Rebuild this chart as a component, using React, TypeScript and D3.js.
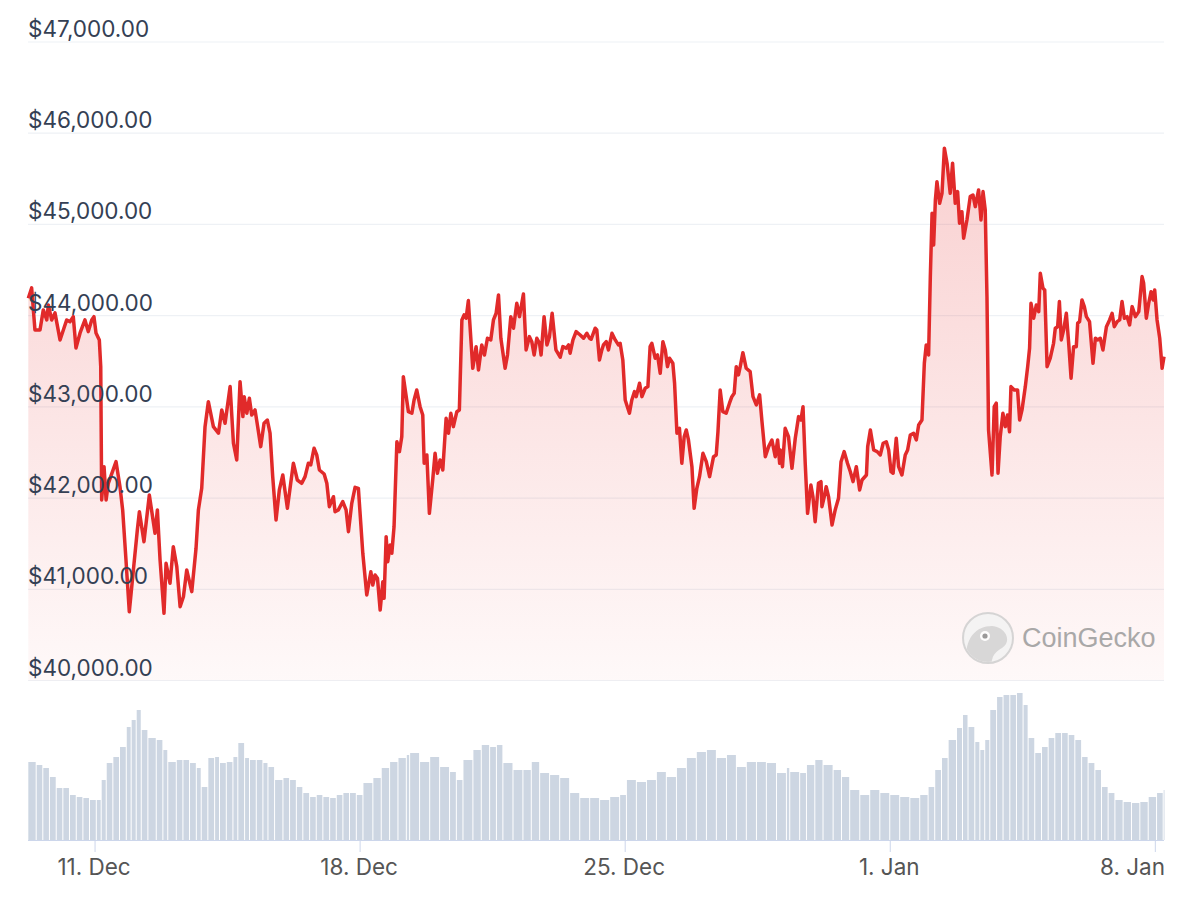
import React from "react";
import * as d3 from "d3";

// Hours since START, BTC price in USD
const START = Date.UTC(2023, 11, 9, 5, 30);
const SPAN_HOURS = 720;

const priceSeries: [number, number][] = [
  [0.2,44191],[2.3,44304],[4.4,43843],[7.6,43843],[9.7,44063],[11.9,43953],[12.9,44117],[15.0,43953],[17.1,44030],[20.3,43734],
  [22.4,43843],[24.5,43953],[26.6,43934],[28.7,43989],[30.4,43646],[33.0,43810],[36.1,43953],[38.2,43825],[40.4,43953],[41.8,43989],
  [43.1,43810],[45.2,43734],[46.1,43441],[46.7,41979],[48.2,42344],[49.5,41979],[50.9,42162],[55.8,42399],[58.3,42125],[60.0,41870],
  [62.1,41321],[64.2,40754],[66.8,41212],[69.3,41650],[70.6,41851],[73.5,41522],[76.9,42034],[80.5,41614],[82.0,41870],[83.7,41321],
  [86.2,40737],[87.5,41285],[90.0,41066],[92.1,41467],[94.3,41248],[96.4,40809],[98.5,40919],[100.6,41212],[103.8,40974],[106.5,41450],
  [108.0,41870],[110.1,42107],[112.2,42783],[114.3,43057],[117.5,42783],[120.7,42711],[122.8,42966],[124.9,42820],[128.1,43222],[130.2,42601],
  [132.3,42418],[134.4,43276],[136.2,42893],[137.0,43112],[138.7,42930],[140.3,43094],[141.8,42911],[143.9,42966],[145.4,42802],[147.5,42564],
  [149.6,42820],[151.7,42856],[153.4,42711],[155.1,42235],[157.2,41760],[159.3,42089],[161.5,42253],[164.4,41888],[168.2,42382],[170.7,42198],
  [173.5,42162],[175.6,42235],[177.7,42382],[179.2,42363],[181.3,42546],[183.0,42473],[184.7,42308],[187.7,42264],[189.4,42162],[191.0,41906],
  [193.6,42015],[194.6,41851],[196.7,41870],[199.5,41961],[201.6,41870],[203.1,41632],[205.2,41943],[207.3,42118],[209.4,42107],[212.2,41395],
  [214.7,40938],[217.3,41193],[218.5,41047],[220.0,41157],[221.5,41121],[223.2,40773],[224.9,41083],[225.7,40901],[227.0,41577],[228.0,41303],
  [229.5,41486],[230.6,41395],[232.0,41686],[233.8,42618],[235.4,42509],[236.9,42673],[237.9,43331],[241.1,42947],[243.3,42930],[244.7,43076],
  [246.4,43185],[248.5,43002],[250.2,42911],[251.1,42382],[252.8,42473],[254.4,41833],[256.6,42217],[258.0,42491],[259.5,42272],[261.2,42418],
  [262.9,42308],[265.0,42875],[266.5,42711],[268.0,42930],[269.6,42783],[271.8,42947],[273.4,42966],[275.0,43953],[276.4,44008],[277.7,43972],
  [279.1,44165],[281.9,43423],[284.0,43660],[285.5,43405],[287.6,43679],[289.3,43569],[291.2,43752],[293.3,43734],[295.0,43953],[296.7,44026],
  [298.2,44227],[299.7,43752],[302.4,43423],[303.9,43569],[306.0,43989],[307.7,43862],[309.8,44136],[311.5,43989],[314.0,44238],[315.7,43624],
  [317.8,43770],[319.3,43715],[320.8,43569],[322.5,43752],[324.2,43697],[325.2,43569],[327.1,43989],[328.9,43679],[330.5,43770],[332.2,44026],
  [334.6,43624],[337.3,43544],[339.0,43660],[341.1,43643],[342.6,43679],[343.6,43588],[345.4,43734],[347.4,43825],[350.0,43788],[352.1,43752],
  [354.2,43807],[355.9,43752],[356.9,43741],[359.5,43862],[360.5,43843],[362.2,43514],[363.7,43624],[364.7,43679],[366.5,43715],[367.9,43624],
  [370.1,43807],[372.2,43734],[374.2,43679],[375.3,43697],[377.0,43514],[378.5,43076],[381.2,42930],[382.7,43076],[384.4,43167],[385.5,43112],
  [387.6,43259],[389.1,43112],[391.2,43204],[392.9,43222],[394.3,43660],[395.4,43697],[397.5,43533],[399.0,43569],[400.7,43368],[402.4,43715],
  [403.9,43624],[405.3,43441],[406.6,43533],[408.7,43478],[409.8,43259],[411.3,42711],[412.9,42765],[414.4,42382],[415.9,42673],[417.2,42747],
  [418.6,42637],[420.8,42344],[422.2,41888],[423.9,42107],[425.6,42235],[427.8,42491],[429.9,42399],[432.0,42235],[434.5,42454],[436.2,42473],
  [437.3,42728],[438.7,43185],[440.4,42947],[442.5,42930],[444.6,43040],[446.1,43112],[447.6,43149],[448.9,43441],[450.3,43350],[451.4,43441],
  [453.1,43594],[455.2,43423],[457.7,43386],[459.5,43112],[461.6,43021],[463.7,43131],[465.2,42838],[467.3,42454],[469.4,42564],[471.5,42637],
  [473.6,42454],[475.1,42637],[476.4,42382],[476.8,42527],[478.2,42344],[479.9,42765],[482.0,42673],[484.2,42327],[486.3,42656],[488.4,42893],
  [489.9,42856],[491.2,43002],[492.6,42382],[494.1,41833],[496.2,42144],[497.5,42015],[498.9,41741],[501.0,42162],[502.6,42180],[503.2,41906],
  [504.7,42015],[505.9,42125],[507.4,42015],[509.6,41705],[511.6,41870],[513.7,41998],[515.3,42399],[517.3,42509],[519.4,42382],[521.2,42289],
  [522.9,42180],[525.0,42344],[527.1,42089],[528.6,42198],[531.4,42253],[532.2,42564],[533.9,42747],[536.0,42527],[538.2,42509],[540.2,42473],
  [542.0,42601],[544.0,42618],[545.5,42527],[547.0,42289],[548.3,42272],[550.3,42656],[551.8,42344],[553.9,42253],[556.0,42473],[557.5,42527],
  [559.2,42692],[561.3,42711],[563.0,42637],[564.5,42802],[566.6,42856],[568.1,43478],[569.3,43679],[570.8,43569],[571.9,44428],[573.0,45123],
  [574.0,44775],[575.1,45269],[576.1,45469],[577.8,45232],[579.3,45342],[580.8,45836],[582.5,45671],[584.5,45342],[586.0,45671],[587.7,45232],
  [589.2,45360],[590.4,45013],[591.9,45140],[593.0,44849],[595.1,45049],[597.2,45305],[598.9,45323],[600.4,45195],[602.5,45378],[604.0,45049],
  [605.3,45360],[606.7,45159],[607.8,44208],[608.8,42747],[611.0,42253],[612.4,43002],[613.7,43040],[614.8,42272],[616.2,42673],[617.9,42930],
  [619.4,42783],[620.8,42911],[622.1,42728],[623.0,43222],[625.1,43185],[627.2,43185],[628.5,42856],[630.0,42966],[632.1,43222],[633.6,43441],
  [634.8,43643],[635.7,44136],[637.4,43972],[639.1,44117],[640.6,44044],[641.6,44465],[643.3,44300],[644.4,44282],[645.9,43441],[647.9,43533],
  [650.0,43697],[651.1,43862],[652.6,43879],[653.7,44154],[654.9,43734],[656.4,43843],[658.1,44026],[659.6,43697],[661.1,43314],[662.7,43660],
  [664.4,43660],[665.3,43917],[666.5,43934],[668.0,44172],[669.5,44099],[670.8,43989],[672.8,43934],[675.0,43478],[676.5,43752],[677.9,43734],
  [679.6,43752],[681.3,43624],[683.5,43879],[685.5,43953],[687.1,44026],[688.5,43879],[690.3,43934],[691.9,43953],[693.4,44154],[694.9,43972],
  [696.6,43989],[698.2,43898],[699.8,44099],[701.9,43989],[704.0,44044],[706.1,44428],[707.1,44355],[708.8,43972],[710.3,44136],[711.8,44263],
  [713.1,44172],[714.1,44282],[715.6,43953],[717.3,43752],[718.8,43423],[720.0,43551]
];

// Hours since START, hourly volume in units of $10M
const volumeSeries: [number, number][] = [
  [0.2,78],[5.5,75],[9.7,72],[13.9,63],[18.2,52],[22.4,52],[26.6,45],[30.9,43],[35.1,42],[39.3,40],
  [43.6,40],[46.7,60],[49.9,77],[54.1,83],[58.3,93],[62.6,113],[65.7,120],[68.9,130],[72.1,110],[76.3,102],
  [81.6,100],[85.8,90],[88.9,78],[94.3,80],[98.5,80],[102.7,77],[107.0,72],[110.1,53],[114.3,82],[118.6,83],
  [121.7,77],[126.0,78],[130.2,83],[133.3,97],[137.6,82],[140.7,80],[145.0,80],[149.2,77],[152.4,73],[156.6,60],
  [161.9,62],[166.1,60],[170.4,53],[174.5,47],[178.8,43],[183.0,45],[187.2,43],[191.5,42],[195.7,45],[199.9,47],
  [204.1,47],[208.4,45],[212.6,57],[218.9,62],[224.2,72],[229.5,78],[234.8,82],[240.1,85],[242.2,87],[248.5,78],
  [254.9,83],[261.2,73],[267.5,68],[271.8,60],[276.0,80],[282.3,90],[287.6,95],[292.9,93],[297.2,95],[301.3,77],
  [307.7,70],[314.0,70],[319.3,78],[324.6,67],[330.9,65],[337.3,62],[343.6,47],[350.0,42],[356.3,42],[362.6,40],
  [369.0,43],[375.3,45],[379.6,60],[385.9,58],[392.3,60],[398.6,68],[404.9,63],[411.3,72],[417.6,82],[423.9,88],
  [430.3,90],[436.6,82],[443.0,85],[449.3,73],[455.6,78],[462.0,78],[468.3,77],[474.7,67],[481.0,72],[483.1,68],
  [489.4,67],[493.7,75],[499.0,80],[504.2,75],[510.6,70],[515.9,63],[521.1,50],[527.5,45],[533.8,50],[540.2,47],
  [546.5,45],[552.8,43],[559.2,42],[565.5,45],[570.8,53],[575.0,70],[579.3,82],[583.5,100],[588.8,112],[592.6,125],
  [596.1,113],[600.4,98],[603.6,90],[606.7,100],[609.9,130],[614.2,143],[618.3,145],[622.6,145],[626.8,147],[631.0,135],
  [634.2,102],[638.4,87],[642.7,93],[646.9,102],[651.1,107],[655.4,107],[659.6,105],[663.8,100],[668.1,83],[672.2,77],
  [676.5,70],[680.7,53],[684.9,47],[689.2,40],[694.4,38],[699.7,37],[705.0,38],[710.3,43],[715.6,47],[719.8,50]
];

const priceTicks = [40000, 41000, 42000, 43000, 44000, 45000, 46000, 47000];
const dateTicks = [
  Date.UTC(2023, 11, 11), Date.UTC(2023, 11, 18), Date.UTC(2023, 11, 25),
  Date.UTC(2024, 0, 1), Date.UTC(2024, 0, 8)
];

const W = 1200, H = 898;
const X0 = 28, X1 = 1164;
const toDate = (h: number) => new Date(START + h * 3600e3);

export default function App() {
  const x = d3.scaleUtc().domain([toDate(0), toDate(SPAN_HOURS)]).range([X0, X1]);
  const y = d3.scaleLinear().domain([40000, 47000]).range([680.5, 42]);
  const yv = d3.scaleLinear().domain([0, 150]).range([840, 690]);

  const line = d3.line<[number, number]>().x(d => x(toDate(d[0]))).y(d => y(d[1]));
  const area = d3.area<[number, number]>().x(d => x(toDate(d[0]))).y0(y(40000)).y1(d => y(d[1]));
  const fmtPrice = (v: number) => "$" + d3.format(",.2f")(v);
  const fmtDate = d3.utcFormat("%-d. %b");

  const bars = volumeSeries.map((d, i) => {
    const xa = x(toDate(d[0]));
    const next = i < volumeSeries.length - 1 ? x(toDate(volumeSeries[i + 1][0])) : Math.min(X1, xa + 5);
    return { x: xa, w: Math.max(0.8, next - xa - 1), y: yv(d[1]), h: yv(0) - yv(d[1]) };
  });

  const font = "Inter, 'Noto Sans', sans-serif";

  return (
    <svg width={W} height={H} style={{ position: "absolute", left: 0, top: 0, background: "#fff" }}>
      <defs>
        <linearGradient id="pfill" gradientUnits="userSpaceOnUse" x1="0" y1={y(45836)} x2="0" y2={y(40000)}>
          <stop offset="0" stopColor="rgb(230,45,45)" stopOpacity={0.22} />
          <stop offset="1" stopColor="rgb(230,45,45)" stopOpacity={0.03} />
        </linearGradient>
        <clipPath id="logoClip">
          <circle cx={988} cy={638} r={24} />
        </clipPath>
      </defs>

      {priceTicks.map(t => (
        <line key={t} x1={X0} x2={X1} y1={y(t)} y2={y(t)} stroke="#eef1f5" strokeWidth={1.2} />
      ))}

      {bars.map((b, i) => (
        <rect key={i} x={b.x} y={b.y} width={b.w} height={b.h} fill="#cdd6e2" />
      ))}
      <line x1={X0} x2={X1} y1={840.5} y2={840.5} stroke="#ccd6eb" strokeWidth={1} />
      {dateTicks.map(t => (
        <line key={t} x1={x(new Date(t))} x2={x(new Date(t))} y1={840} y2={852} stroke="#ccd6eb" strokeWidth={1} />
      ))}

      <path d={area(priceSeries) || ""} fill="url(#pfill)" />
      <path d={line(priceSeries) || ""} fill="none" stroke="#e12a2a" strokeWidth={3.5} strokeLinejoin="round" />

      {priceTicks.map(t => (
        <text key={t} x={X0} y={y(t) - 5} fontFamily={font} fontSize={22.5} fill="#344054">{fmtPrice(t)}</text>
      ))}

      {dateTicks.map((t, i) => {
        const last = i === dateTicks.length - 1;
        return (
          <text key={t} x={last ? X1 + 1 : x(new Date(t)) - 1} y={875} textAnchor={last ? "end" : "middle"}
            fontFamily={font} fontSize={22.5} fill="#555">
            {fmtDate(new Date(t))}
          </text>
        );
      })}

      <g opacity={0.85}>
        <circle cx={988} cy={638} r={25} fill="#f3f3f3" stroke="#cfcfcf" strokeWidth={2} />
        <path clipPath="url(#logoClip)" d="M 968 668 C 962 645, 972 626, 992 626 C 1003 627, 1010 636, 1006 644 C 1002 650, 994 650, 992 660 L 990 668 Z" fill="#d2d2d2" />
        <circle cx={985} cy={636} r={5} fill="#fff" />
        <circle cx={985} cy={636} r={2.6} fill="#8a8a8a" />
        <text x={1022} y={647} fontFamily="'Liberation Sans', Arial, sans-serif" fontSize={27} fill="#9b9b9b">CoinGecko</text>
      </g>
    </svg>
  );
}
